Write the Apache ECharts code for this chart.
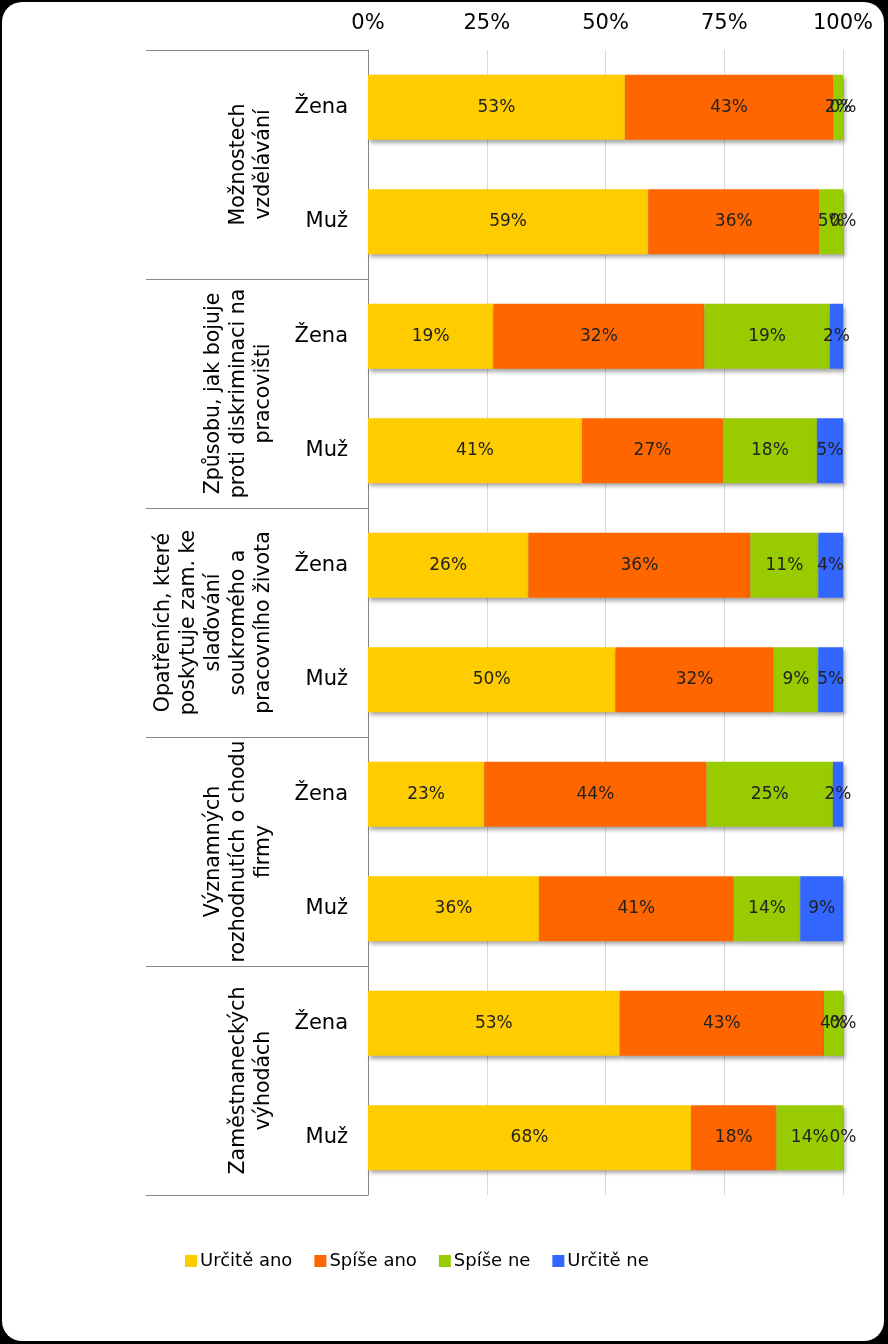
<!DOCTYPE html>
<html>
<head>
<meta charset="utf-8">
<script src="https://cdn.jsdelivr.net/npm/echarts@6/dist/echarts.min.js"></script>
<style>
  html, body { margin: 0; padding: 0; background: #000; }
  #bg { position: absolute; left: 2px; top: 2px; width: 882px; height: 1339px; background: #fff; border-radius: 20px; }
  #chart { position: absolute; left: 0; top: 0; width: 888px; height: 1344px; }
</style>
</head>
<body>
<div id="bg"></div>
<div id="chart"></div>
<script>
// Outer category groups (two rows each)
const groups = [
  'Možnostech\nvzdělávání',
  'Způsobu, jak bojuje\nproti diskriminaci na\npracovišti',
  'Opatřeních, které\nposkytuje zam. ke\nslaďování\nsoukromého a\npracovního života',
  'Významných\nrozhodnutích o chodu\nfirmy',
  'Zaměstnaneckých\nvýhodách'
];
const genders = ['Žena', 'Muž'];
const seriesNames = ['Určitě ano', 'Spíše ano', 'Spíše ne', 'Určitě ne'];
const xTicks = [0, 25, 50, 75, 100];

// Raw percentages shown in labels (rows: group x gender, top to bottom)
const urciteAno = [53, 59, 19, 41, 26, 50, 23, 36, 53, 68];
const spiseAno  = [43, 36, 32, 27, 36, 32, 44, 41, 43, 18];
const spiseNe   = [ 2,  5, 19, 18, 11,  9, 25, 14,  4, 14];
const urciteNe  = [ 0,  0,  2,  5,  4,  5,  2,  9,  0,  0];

const colors = ['#FFCC00', '#FF6600', '#99CC00', '#3366FF'];

const rows = [];
groups.forEach((g, gi) => genders.forEach((s, si) => rows.push(s + '|' + gi)));

const raw = [urciteAno, spiseAno, spiseNe, urciteNe];
const totals = rows.map((_, i) => raw.reduce((a, arr) => a + arr[i], 0));

const series = raw.map((arr, k) => ({
  name: seriesNames[k],
  type: 'bar',
  stack: 'total',
  yAxisIndex: 0,
  barWidth: 65,
  clip: false,
  itemStyle: {
    color: colors[k],
    shadowColor: 'rgba(0,0,0,0.35)',
    shadowBlur: 4,
    shadowOffsetX: 2,
    shadowOffsetY: 3
  },
  label: {
    show: true,
    position: 'inside',
    formatter: p => p.data.raw + '%',
    fontFamily: 'DejaVu Sans',
    fontSize: 17,
    color: '#222'
  },
  data: arr.map((v, i) => ({ value: v / totals[i] * 100, raw: v }))
}));

const chart = echarts.init(document.getElementById('chart'), null, { renderer: 'canvas' });
chart.setOption({
  backgroundColor: 'transparent',
  animation: false,
  color: colors,
  textStyle: { fontFamily: 'DejaVu Sans' },
  grid: { left: 368, right: 45, top: 50, bottom: 149, containLabel: false },
  legend: {
    data: seriesNames,
    left: 180,
    top: 1247,
    icon: 'rect',
    itemWidth: 12,
    itemHeight: 12,
    itemGap: 22,
    textStyle: { fontFamily: 'DejaVu Sans', fontSize: 18, color: '#000', padding: [0, 0, 0, -2] }
  },
  xAxis: {
    type: 'value',
    position: 'top',
    min: xTicks[0],
    max: xTicks[xTicks.length - 1],
    interval: 25,
    axisLine: { show: false },
    axisTick: { show: false },
    axisLabel: { formatter: '{value}%', fontSize: 21, color: '#000', margin: 16, fontFamily: 'DejaVu Sans' },
    splitLine: { show: true, lineStyle: { color: '#D9D9D9', width: 1 } }
  },
  yAxis: [
    {
      type: 'category',
      data: rows,
      inverse: true,
      axisLine: { show: true, lineStyle: { color: '#868686', width: 1 } },
      axisTick: { show: false },
      axisLabel: {
        interval: 0,
        formatter: v => v.split('|')[0],
        fontSize: 21, color: '#000', margin: 20, fontFamily: 'DejaVu Sans'
      }
    },
    {
      type: 'category',
      data: groups,
      inverse: true,
      position: 'left',
      axisLine: { show: false },
      axisTick: { show: true, interval: 0, length: 222, lineStyle: { color: '#868686', width: 1 } },
      axisLabel: {
        interval: 0,
        rotate: 90,
        margin: 92,
        fontSize: 20.5,
        lineHeight: 25,
        color: '#000',
        fontFamily: 'DejaVu Sans',
        align: 'center'
      }
    }
  ],
  series: series
});
</script>
</body>
</html>
